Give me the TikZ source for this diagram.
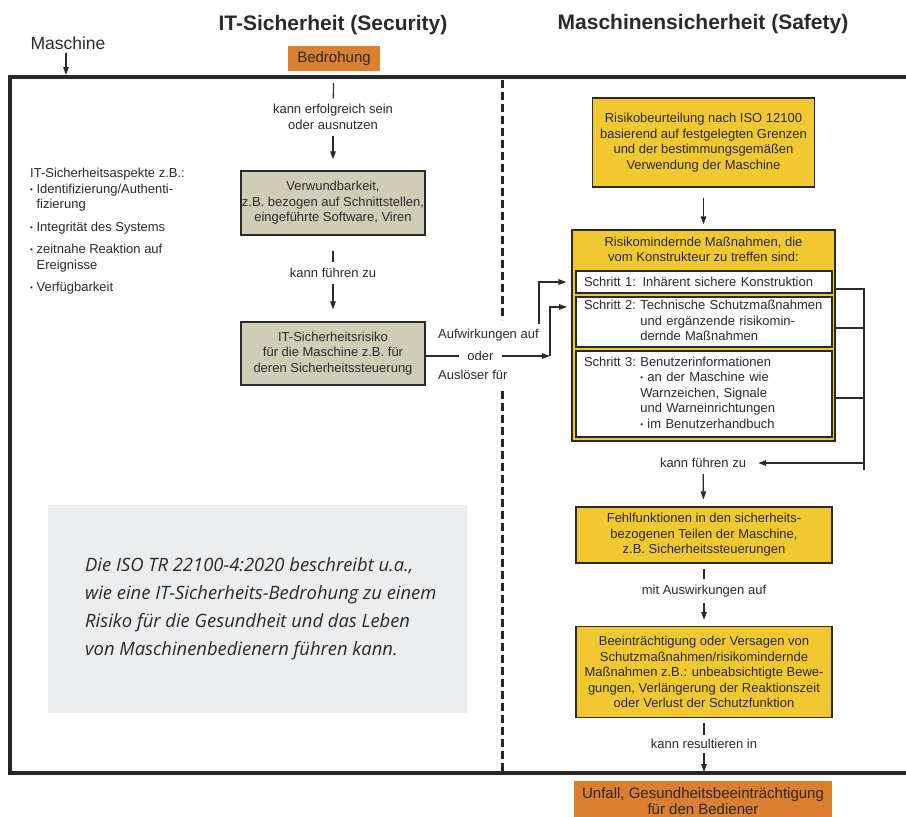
\documentclass[tikz,border=0pt]{standalone}
\usepackage{fontspec}
\setmainfont{Liberation Sans}
\newfontfamily\notefont{Open Sans}
\usetikzlibrary{arrows.meta}

\definecolor{ink}{HTML}{2A2A2A}
\definecolor{orangefill}{HTML}{DC7F2E}
\definecolor{yellowfill}{HTML}{F2C831}
\definecolor{olivefill}{HTML}{CFCDB6}
\definecolor{notefill}{HTML}{ECEDEF}

\newcommand{\bul}{{\fontsize{8}{8}\selectfont\raisebox{0.2ex}{\textbullet}}}

\tikzset{
  txt/.style={font=\fontsize{13}{15.5}\selectfont, text=ink, align=center},
  olivebox/.style={txt, draw=ink, line width=1.2pt, fill=olivefill, minimum width=184pt, inner sep=0pt},
  yellowbox/.style={txt, draw=ink, line width=1.2pt, fill=yellowfill, minimum width=256pt, inner sep=0pt},
  stepbox/.style={txt, draw=ink, line width=1.2pt, fill=white, minimum width=256pt, text width=240pt, align=left, inner sep=0pt},
  orangebox/.style={txt, fill=orangefill, inner sep=0pt},
  lbl/.style={txt, inner xsep=2pt, inner ysep=6pt},
  link/.style={draw=ink, line width=1.3pt},
  arr/.style={link, -{Triangle[length=8pt,width=5.5pt]}},
  border/.style={black!85, line width=3pt, dash pattern=on 8pt off 4pt},
}

\begin{document}
\begin{tikzpicture}[x=1pt,y=-1pt]
\useasboundingbox (0,0) rectangle (906,817);

% headings
\node[txt, font=\fontsize{21}{24}\selectfont\bfseries] (itsec) at (333,25) {IT-Sicherheit (Security)};
\node[txt, font=\fontsize{21}{24}\selectfont\bfseries] (safety) at (703,24) {Maschinensicherheit (Safety)};
\node[txt, font=\fontsize{17.5}{20}\selectfont] (maschine) at (68,43) {Maschine};
\coordinate (frametop) at (66,75);
\draw[arr] (maschine.south -| frametop) -- (frametop);

% machine frame and border security/safety
\draw[black!85, line width=4.5pt] (906,77) -- (10,77) -- (10,773) -- (906,773);
\draw[border] (502,80) -- (502,320);
\draw[border] (502,391) -- (502,771);

% security side
\node[orangebox, minimum width=92pt, minimum height=25pt, font=\fontsize{15}{17}\selectfont] (bedrohung) at (334,58.5) {Bedrohung};
\node[lbl] (erfolg) at (333,117) {kann erfolgreich sein\\oder ausnutzen};
\node[olivebox, minimum height=64pt] (verwund) at (333,203) {Verwundbarkeit,\\z.B. bezogen auf Schnittstellen,\\eingeführte Software, Viren};
\node[lbl] (fuehren) at (333,273) {kann führen zu};
\node[olivebox, minimum height=63pt] (itrisiko) at (333,353.5) {IT-Sicherheitsrisiko\\für die Maschine z.B. für\\deren Sicherheitssteuerung};

\draw[link, shorten <=12pt] (bedrohung) -- (erfolg);
\draw[arr, shorten >=11pt] (erfolg) -- (verwund);
\draw[link, shorten <=15pt] (verwund) -- (fuehren);
\draw[arr, shorten >=12pt] (fuehren) -- (itrisiko);

\node[txt, align=left, anchor=north west, inner sep=0pt] (aspekte) at (30,168) {IT-Sicherheitsaspekte z.B.:\\
\bul\ Identifizierung/Authenti-\\
\phantom{\bul\ }fizierung\\[7pt]
\bul\ Integrität des Systems\\[7pt]
\bul\ zeitnahe Reaktion auf\\
\phantom{\bul\ }Ereignisse\\[7pt]
\bul\ Verfügbarkeit};

\node[fill=notefill, minimum width=419pt, minimum height=208pt, inner sep=0pt] (notebox) at (257.5,609) {};
\node[anchor=west, align=left, inner sep=0pt, text=ink, font=\notefont\itshape\fontsize{18.4}{28}\selectfont] (note) at (85,609) {Die ISO TR 22100-4:2020 beschreibt u.a.,\\wie eine IT-Sicherheits-Bedrohung zu einem\\Risiko für die Gesundheit und das Leben\\von Maschinenbedienern führen kann.};

% safety side
\node[yellowbox, minimum width=222pt, minimum height=89pt] (beurteilung) at (703.5,142.5) {Risikobeurteilung nach ISO 12100\\basierend auf festgelegten Grenzen\\und der bestimmungsgemäßen\\Verwendung der Maschine};
\node[draw=ink, line width=1.2pt, fill=yellowfill, minimum width=263pt, minimum height=211pt, inner sep=0pt] (massnahmen) at (703.5,335.5) {};
\node[txt] (massnahmentitel) at (703.5,249.5) {Risikomindernde Maßnahmen, die\\vom Konstrukteur zu treffen sind:};
\node[stepbox, minimum height=22pt] (schritt1) at (704,282) {Schritt 1: Inhärent sichere Konstruktion};
\node[stepbox, minimum height=50pt] (schritt2) at (704,322) {\begin{tabular}{@{}l@{\ }l@{}}Schritt 2: & Technische Schutzmaßnahmen\\ & und ergänzende risikomin-\\ & dernde Maßnahmen\end{tabular}};
\node[stepbox, minimum height=86pt] (schritt3) at (704,394) {\begin{tabular}{@{}l@{\ }l@{}}Schritt 3: & Benutzerinformationen\\ & \bul\ an der Maschine wie\\ & Warnzeichen, Signale\\ & und Warneinrichtungen\\ & \bul\ im Benutzerhandbuch\end{tabular}};

\draw[arr, shorten <=10pt, shorten >=5pt] (beurteilung) -- (massnahmen);

% from IT risk into the measures
\node[txt, anchor=west, inner sep=0pt] (aufw) at (438,335) {Aufwirkungen auf};
\node[txt, inner xsep=8pt, inner ysep=0pt] (oder) at (480.5,356) {oder};
\node[txt, anchor=west, inner sep=0pt] (ausloeser) at (438,375) {Auslöser für};
\coordinate (knick) at (550,356);
\coordinate (eingang1) at ([xshift=-5pt]massnahmen.west |- schritt1.west);
\coordinate (eingang2) at (567,307);
\draw[link] (itrisiko.east |- oder) -- (oder.west);
\draw[arr] (oder.east) -- (knick);
\draw[arr] (knick) |- (eingang2);
\draw[arr] ([yshift=5pt]aufw.north east) |- (eingang1);

% feedback rail on the right
\coordinate (schiene) at (864,470);
\coordinate (r1) at ([yshift=-7pt]schritt1.east);
\coordinate (r2) at ([yshift=-6pt]schritt2.east);
\coordinate (r3) at ([yshift=-4pt]schritt3.east);
\draw[link] (r1 -| massnahmen.east) -| (schiene);
\draw[link] (r2 -| massnahmen.east) -- (r2 -| schiene);
\draw[link] (r3 -| massnahmen.east) -- (r3 -| schiene);

\node[lbl] (fuehren2) at (703,463) {kann führen zu};
\draw[arr, shorten >=10pt] (schiene |- fuehren2) -- (fuehren2.east);

\node[yellowbox, minimum height=56pt] (fehl) at (704,535) {Fehlfunktionen in den sicherheits-\\bezogenen Teilen der Maschine,\\z.B. Sicherheitssteuerungen};
\node[lbl] (mitausw) at (704,591) {mit Auswirkungen auf};
\node[yellowbox, minimum height=91pt] (beein) at (704,672) {Beeinträchtigung oder Versagen von\\Schutzmaßnahmen/risikomindernde\\Maßnahmen z.B.: unbeabsichtigte Bewe-\\gungen, Verlängerung der Reaktionszeit\\oder Verlust der Schutzfunktion};
\node[lbl, inner ysep=4pt] (result) at (704,744) {kann resultieren in};
\node[orangebox, minimum width=258pt, minimum height=40pt, font=\fontsize{15}{16}\selectfont] (unfall) at (703,801) {Unfall, Gesundheitsbeeinträchtigung\\für den Bediener};
\coordinate (unten) at (704,772);

\draw[arr, shorten >=7pt] (fuehren2) -- (fehl);
\draw[link, shorten <=5pt] (fehl) -- (mitausw);
\draw[arr, shorten >=6pt] (mitausw) -- (beein);
\draw[link, shorten <=5pt] (beein) -- (result);
\draw[arr] (result) -- (unten);

\end{tikzpicture}
\end{document}
